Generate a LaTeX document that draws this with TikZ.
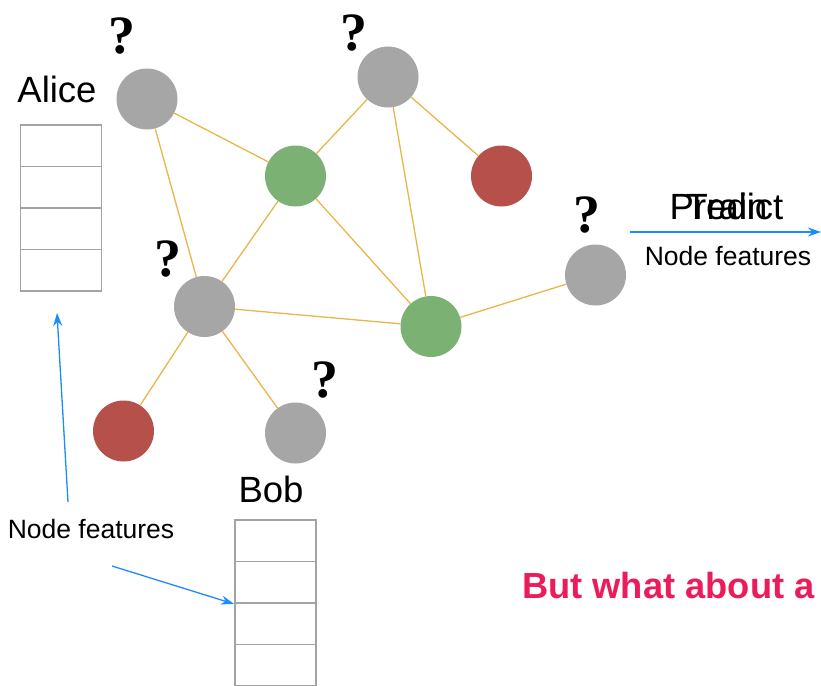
\documentclass[tikz,border=0pt]{standalone}
\usepackage{fontspec}
\setmainfont{Liberation Sans}
\newfontfamily\qfont{Liberation Serif}
\usetikzlibrary{arrows.meta}

\definecolor{nodegray}{HTML}{A6A6A6}
\definecolor{nodegreen}{HTML}{7BB274}
\definecolor{nodered}{HTML}{B5504B}
\definecolor{edgeyellow}{HTML}{E8B64A}
\definecolor{cellgray}{HTML}{A3A3A3}
\definecolor{arrowblue}{HTML}{1A8CFF}
\definecolor{alertpink}{HTML}{EC1C5A}

\begin{document}
\begin{tikzpicture}[x=1pt,y=-1pt,
  vertex/.style={circle, minimum size=61pt, inner sep=0pt},
  graynode/.style={vertex, fill=nodegray},
  greennode/.style={vertex, fill=nodegreen},
  rednode/.style={vertex, fill=nodered},
  link/.style={draw=edgeyellow, line width=1.3pt},
  qmark/.style={anchor=base, inner sep=0pt, font=\qfont\bfseries\fontsize{54}{54}\selectfont},
  featcell/.style={draw=cellgray, line width=1.9pt, minimum width=81pt, minimum height=41.5pt, inner sep=0pt},
  bigtext/.style={anchor=base, inner sep=0pt, font=\fontsize{36.5}{36.5}\selectfont},
  smalltext/.style={anchor=base, inner sep=0pt, font=\fontsize{26.5}{26.5}\selectfont},
  pointer/.style={draw=arrowblue, line width=1.3pt, -{Stealth[length=13pt,width=9pt]}}
]
\useasboundingbox (0,0) rectangle (821,685);
\clip (0,0) rectangle (821,685);

% graph vertices
\node[graynode]  (a) at (147,99)    {};
\node[graynode]  (b) at (388,77)    {};
\node[greennode] (c) at (295.5,176) {};
\node[rednode]   (d) at (501.5,176) {};
\node[graynode]  (e) at (595.5,275) {};
\node[graynode]  (f) at (204.5,306.5) {};
\node[greennode] (g) at (431,326.5) {};
\node[rednode]   (h) at (123.5,431) {};
\node[graynode]  (i) at (295.5,433) {};

% graph edges
\draw[link] (a) -- (c);
\draw[link] (a) -- (f);
\draw[link] (b) -- (c);
\draw[link] (b) -- (d);
\draw[link] (b) -- (g);
\draw[link] (c) -- (f);
\draw[link] (c) -- (g);
\draw[link] (f) -- (g);
\draw[link] (f) -- (h);
\draw[link] (f) -- (i);
\draw[link] (g) -- (e);

% unknown labels
\node[qmark] (qa) at (122,53)  {?};
\node[qmark] (qb) at (354,51)  {?};
\node[qmark] (qf) at (167.5,276) {?};
\node[qmark] (qe) at (586.5,232) {?};
\node[qmark] (qi) at (325,397) {?};

% Alice's feature vector
\node[bigtext] (alice) at (57,102) {Alice};
\node[featcell] (al1) at (61,145.75) {};
\node[featcell] (al2) at (61,187.25) {};
\node[featcell] (al3) at (61,228.75) {};
\node[featcell] (al4) at (61,270.25) {};

% Bob's feature vector
\node[bigtext] (bob) at (271,502) {Bob};
\node[featcell] (bo1) at (275.5,540.75) {};
\node[featcell] (bo2) at (275.5,582.25) {};
\node[featcell] (bo3) at (275.5,623.75) {};
\node[featcell] (bo4) at (275.5,665.25) {};

% feature annotations
\node[smalltext] (featleft) at (91,538) {Node features};
\coordinate (ptrAtail) at (68,502);
\coordinate (ptrAhead) at (57,313);
\draw[pointer] (ptrAtail) -- (ptrAhead);
\coordinate (ptrBtail) at (112,566);
\draw[pointer] (ptrBtail) -- (bo2.south west);

% prediction arrow
\coordinate (outtail) at (630,232);
\coordinate (outhead) at (821,232);
\draw[pointer] (outtail) -- (outhead);
\node[bigtext] (predict) at (726.5,219) {Predict};
\node[bigtext] (train) at (726.5,219) {Train};
\node[smalltext] (featright) at (728,265) {Node features};

% closing question
\node[anchor=base west, inner sep=0pt, text=alertpink,
      font=\bfseries\fontsize{36.3}{36.3}\selectfont] (question) at (522,598) {But what about a};
\end{tikzpicture}
\end{document}
